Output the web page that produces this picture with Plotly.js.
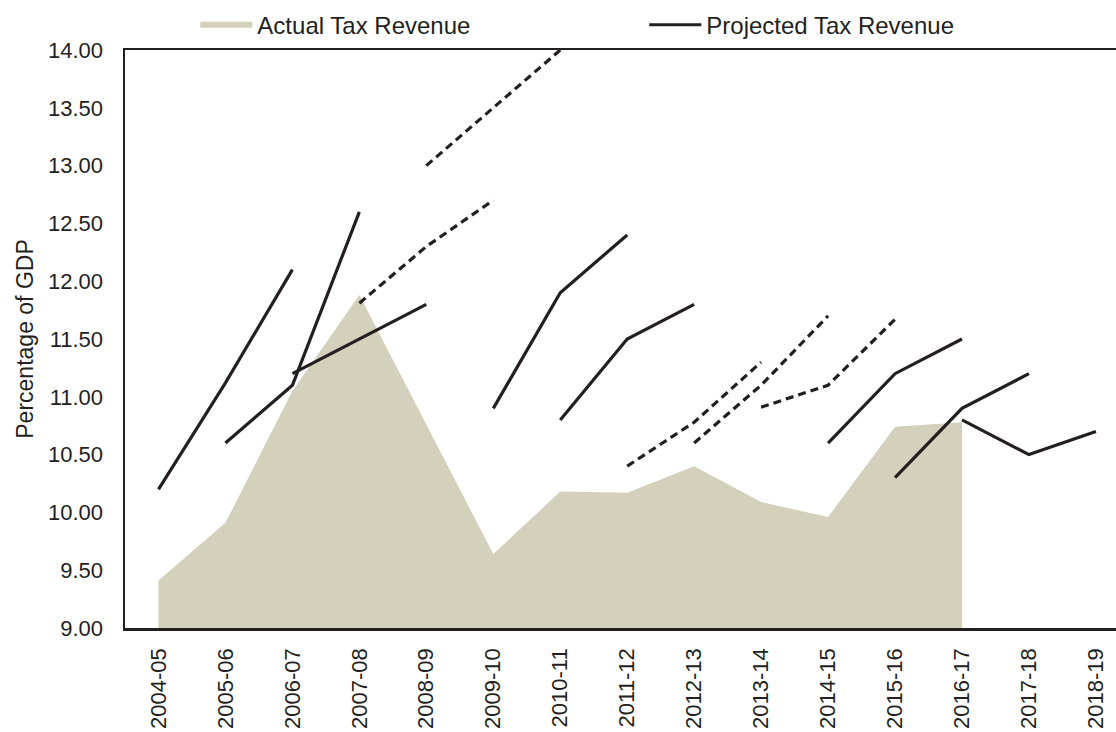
<!DOCTYPE html>
<html>
<head>
<meta charset="utf-8">
<script src="https://cdn.plot.ly/plotly-3.0.1.min.js"></script>
<style>
  html, body { margin: 0; padding: 0; background: #ffffff; }
  #chart { width: 1116px; height: 732px; }
</style>
</head>
<body>
<div id="chart"></div>
<script>
// ---- Data ----
const categories = ['2004-05', '2005-06', '2006-07', '2007-08', '2008-09', '2009-10', '2010-11',
  '2011-12', '2012-13', '2013-14', '2014-15', '2015-16', '2016-17', '2017-18', '2018-19'];

// Actual tax revenue, % of GDP (2004-05 .. 2016-17)
const actualRevenue = [9.41, 9.91, 11.05, 11.88, 10.76, 9.64, 10.18, 10.17, 10.40, 10.09, 9.96, 10.74, 10.78];

// Projected tax revenue, each made in the budget year it starts from (3 years each)
const proj_2004_05 = [10.20, 11.12, 12.10];
const proj_2005_06 = [10.60, 11.10, 12.60];
const proj_2006_07 = [11.20, 11.50, 11.80];
const proj_2007_08 = [11.81, 12.30, 12.70];
const proj_2008_09 = [13.00, 13.50, 14.00];
const proj_2009_10 = [10.90, 11.90, 12.40];
const proj_2010_11 = [10.80, 11.50, 11.80];
const proj_2011_12 = [10.40, 10.78, 11.30];
const proj_2012_13 = [10.60, 11.10, 11.70];
const proj_2013_14 = [10.91, 11.10, 11.67];
const proj_2014_15 = [10.60, 11.20, 11.50];
const proj_2015_16 = [10.30, 10.90, 11.20];
const proj_2016_17 = [10.80, 10.50, 10.70];

const projStartYears = ['2004-05', '2005-06', '2006-07', '2007-08', '2008-09', '2009-10', '2010-11',
  '2011-12', '2012-13', '2013-14', '2014-15', '2015-16', '2016-17'];
const projValues = [proj_2004_05, proj_2005_06, proj_2006_07, proj_2007_08, proj_2008_09, proj_2009_10,
  proj_2010_11, proj_2011_12, proj_2012_13, proj_2013_14, proj_2014_15, proj_2015_16, proj_2016_17];

// ---- Styling ----
const INK = '#231f20';
const AREA = '#d3d1bb';
const FONT = 'Liberation Sans, Arial, sans-serif';
const dashedYears = ['2007-08', '2008-09', '2011-12', '2012-13', '2013-14'];

const traces = [];
traces.push({
  type: 'scatter',
  mode: 'none',
  name: 'Actual Tax Revenue',
  x: categories.slice(0, actualRevenue.length),
  y: actualRevenue,
  fill: 'tozeroy',
  fillcolor: AREA,
  line: { width: 0 },
  legend: 'legend',
  hoverinfo: 'x+y'
});

projStartYears.forEach(function (start, i) {
  const s = categories.indexOf(start);
  const vals = projValues[i];
  traces.push({
    type: 'scatter',
    mode: 'lines',
    name: 'Projected Tax Revenue',
    legendgroup: 'proj',
    showlegend: i === 0,
    legend: 'legend2',
    x: categories.slice(s, s + vals.length),
    y: vals,
    line: {
      color: INK,
      width: 3.2,
      dash: dashedYears.indexOf(start) >= 0 ? '8px,5px' : 'solid'
    },
    hoverinfo: 'x+y'
  });
});

const layout = {
  width: 1116,
  height: 732,
  margin: { l: 125, r: 0, t: 50, b: 104 },
  paper_bgcolor: '#ffffff',
  plot_bgcolor: '#ffffff',
  font: { family: FONT, color: INK, size: 22 },
  showlegend: true,
  legend: {
    orientation: 'h',
    x: 0.071, xanchor: 'left',
    y: 1.043, yanchor: 'middle',
    font: { family: FONT, size: 24, color: INK },
    bgcolor: 'rgba(0,0,0,0)',
    itemwidth: 52
  },
  legend2: {
    orientation: 'h',
    x: 0.524, xanchor: 'left',
    y: 1.043, yanchor: 'middle',
    font: { family: FONT, size: 24, color: INK },
    bgcolor: 'rgba(0,0,0,0)',
    itemwidth: 52
  },
  xaxis: {
    type: 'category',
    categoryorder: 'array',
    categoryarray: categories,
    range: [-0.5, 14.3],
    showgrid: false,
    zeroline: false,
    showline: true,
    linecolor: INK,
    linewidth: 2.5,
    mirror: true,
    layer: 'below traces',
    ticks: '',
    tickangle: -90,
    ticklabelstandoff: 9,
    tickfont: { family: FONT, size: 22, color: INK },
    fixedrange: true
  },
  yaxis: {
    range: [9, 14],
    dtick: 0.5,
    tick0: 9,
    tickformat: '.2f',
    showgrid: false,
    zeroline: false,
    showline: true,
    linecolor: INK,
    linewidth: 2.5,
    layer: 'below traces',
    ticks: '',
    ticklabelstandoff: 15,
    tickfont: { family: FONT, size: 22, color: INK },
    title: { text: 'Percentage of GDP', font: { family: FONT, size: 23, color: INK }, standoff: 8 },
    fixedrange: true
  }
};

Plotly.newPlot('chart', traces, layout, { displayModeBar: false, staticPlot: true });
</script>
</body>
</html>
